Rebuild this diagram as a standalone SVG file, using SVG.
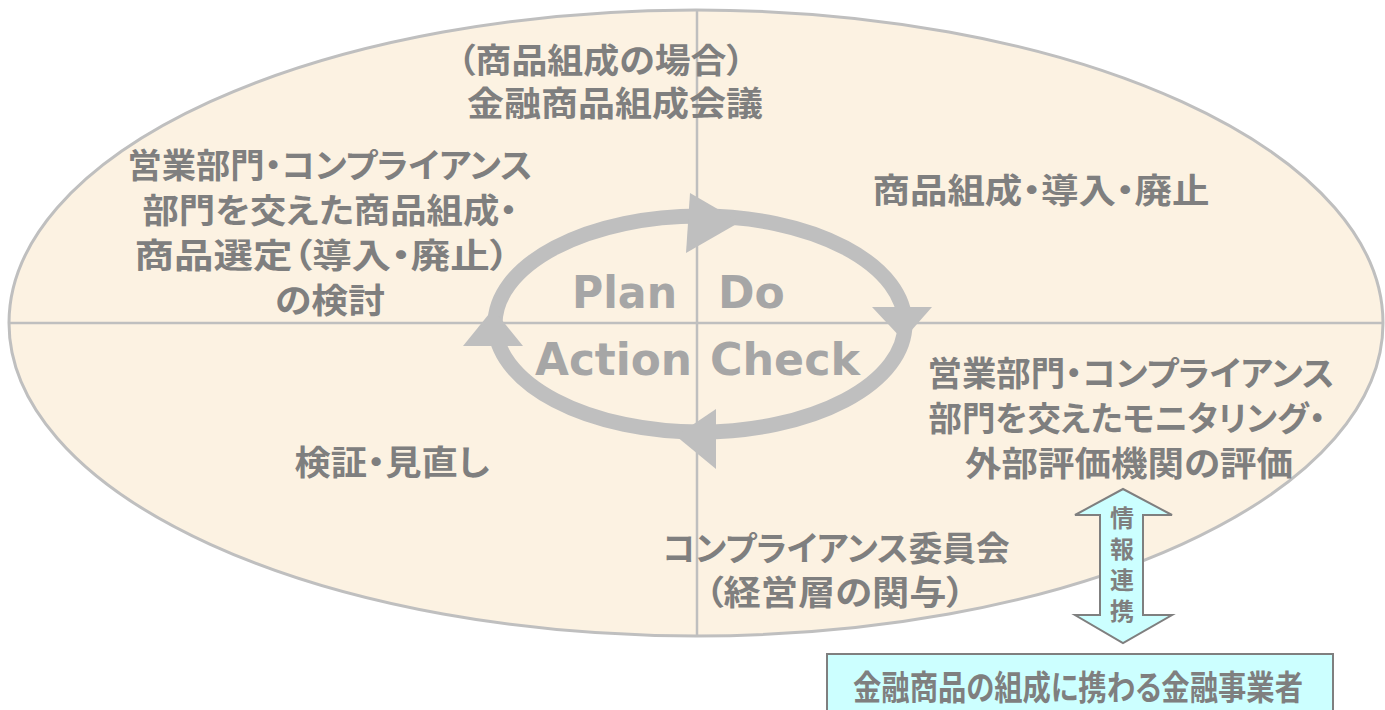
<svg xmlns="http://www.w3.org/2000/svg" width="1385" height="710" viewBox="0 0 1385 710">
<style>
.t{font-family:"Noto Sans CJK JP","Noto Sans",sans-serif;font-weight:bold;fill:#7F7F7F;font-size:34px;text-anchor:middle;font-feature-settings:"palt";}
.p{font-family:"DejaVu Sans",sans-serif;font-weight:bold;fill:#A6A6A6;font-size:44px;}
.ah{fill:#BFBFBF;}
.v{font-family:"Noto Sans CJK JP",sans-serif;font-weight:bold;fill:#7F7F7F;font-size:24px;text-anchor:middle;}
</style>
<rect width="1385" height="710" fill="#FFFFFF"/>
<g id="background">
<ellipse cx="696" cy="323" rx="687" ry="313" fill="#FCF2E2" stroke="#BFBFBF" stroke-width="3"/>
<line x1="697" y1="10" x2="697" y2="636" stroke="#BFBFBF" stroke-width="2.5"/>
<line x1="9" y1="323" x2="1383" y2="323" stroke="#BFBFBF" stroke-width="2.5"/>
</g>
<g id="cycle">
<ellipse cx="700" cy="324" rx="205" ry="108" fill="none" stroke="#BFBFBF" stroke-width="15"/>
<polygon class="ah" points="690,193 740,222 686,253"/>
<polygon class="ah" points="872,307 932,307 903,340"/>
<polygon class="ah" points="716,409 716,469 676,436"/>
<polygon class="ah" points="463,346 523,346 493,309"/>
<text class="p" x="572" y="308" textLength="105" lengthAdjust="spacingAndGlyphs">Plan</text>
<text class="p" x="718" y="308">Do</text>
<text class="p" x="535" y="375" textLength="157" lengthAdjust="spacingAndGlyphs">Action</text>
<text class="p" x="710" y="375" textLength="150" lengthAdjust="spacingAndGlyphs">Check</text>
</g>
<g id="plan-top">
<text class="t" x="601" y="73" textLength="287" lengthAdjust="spacingAndGlyphs">（商品組成の場合）</text>
<text class="t" x="615" y="116" textLength="296" lengthAdjust="spacingAndGlyphs">金融商品組成会議</text>
</g>
<g id="plan-left">
<text class="t" x="330" y="178" textLength="405" lengthAdjust="spacingAndGlyphs">営業部門・コンプライアンス</text>
<text class="t" x="330" y="223" textLength="375" lengthAdjust="spacingAndGlyphs">部門を交えた商品組成・</text>
<text class="t" x="322" y="268" textLength="375" lengthAdjust="spacingAndGlyphs">商品選定（導入・廃止）</text>
<text class="t" x="330" y="313" textLength="110" lengthAdjust="spacingAndGlyphs">の検討</text>
</g>
<g id="do">
<text class="t" x="1041" y="203" textLength="337" lengthAdjust="spacingAndGlyphs">商品組成・導入・廃止</text>
</g>
<g id="check">
<text class="t" x="1131" y="386" textLength="407" lengthAdjust="spacingAndGlyphs">営業部門・コンプライアンス</text>
<text class="t" x="1127" y="431" textLength="397" lengthAdjust="spacingAndGlyphs">部門を交えたモニタリング・</text>
<text class="t" x="1129" y="476" textLength="328" lengthAdjust="spacingAndGlyphs">外部評価機関の評価</text>
</g>
<g id="action">
<text class="t" x="392" y="475" textLength="195" lengthAdjust="spacingAndGlyphs">検証・見直し</text>
</g>
<g id="committee">
<text class="t" x="836" y="561" textLength="347" lengthAdjust="spacingAndGlyphs">コンプライアンス委員会</text>
<text class="t" x="835" y="605" textLength="260" lengthAdjust="spacingAndGlyphs">（経営層の関与）</text>
</g>
<g id="connectors">
<polygon points="1123,489 1172,515 1143,515 1143,615 1172,615 1123,643 1075,615 1100,615 1100,515 1075,515" fill="#CCFFFF" stroke="#7F7F7F" stroke-width="2"/>
<text class="v" x="1122" y="527">情</text>
<text class="v" x="1122" y="558">報</text>
<text class="v" x="1122" y="589">連</text>
<text class="v" x="1122" y="620">携</text>
</g>
<g id="business-operator">
<rect x="827" y="654" width="506" height="60" fill="#CCFFFF" stroke="#7F7F7F" stroke-width="2"/>
<text class="t" x="1078" y="700" textLength="450" lengthAdjust="spacingAndGlyphs">金融商品の組成に携わる金融事業者</text>
</g>
</svg>
